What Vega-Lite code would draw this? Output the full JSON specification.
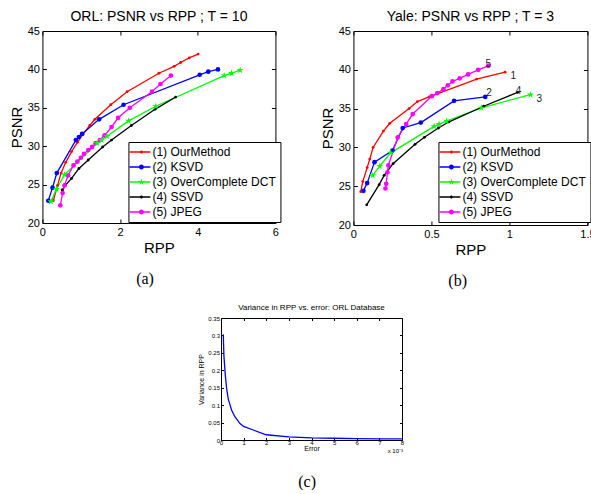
{
  "$schema": "https://vega.github.io/schema/vega-lite/v6.json",
  "padding": {"left": 8, "top": 9, "right": 0, "bottom": 0},
  "background": "white",
  "config": {
    "font": "Liberation Sans",
    "view": {"stroke": "black", "strokeWidth": 1},
    "axis": {"domain": false, "grid": false, "labelFont": "Liberation Sans", "labelFontSize": 11, "labelColor": "black", "labelFlush": false, "titleFont": "Liberation Sans", "titleFontSize": 15, "titleFontWeight": "normal", "titleColor": "black", "tickColor": "black", "tickSize": -4, "labelPadding": 7, "titlePadding": 3},
    "title": {"font": "Liberation Sans", "fontSize": 14, "fontWeight": "normal", "color": "black"},
    "legend": {"strokeColor": "black", "fillColor": "white", "padding": 4, "labelFont": "Liberation Sans", "labelFontSize": 12, "labelColor": "black", "symbolSize": 100, "labelOffset": 8, "rowPadding": 3, "symbolStrokeWidth": 0}
  },
  "datasets": {
    "orl": [
      {"method": "(1) OurMethod", "rpp": 0.28, "psnr": 22.9}, {"method": "(1) OurMethod", "rpp": 0.39, "psnr": 24.9}, {"method": "(1) OurMethod", "rpp": 0.48, "psnr": 26.5}, {"method": "(1) OurMethod", "rpp": 0.6, "psnr": 27.9}, {"method": "(1) OurMethod", "rpp": 0.75, "psnr": 29.3}, {"method": "(1) OurMethod", "rpp": 0.9, "psnr": 30.5}, {"method": "(1) OurMethod", "rpp": 1.05, "psnr": 31.6}, {"method": "(1) OurMethod", "rpp": 1.22, "psnr": 32.7}, {"method": "(1) OurMethod", "rpp": 1.35, "psnr": 33.5}, {"method": "(1) OurMethod", "rpp": 1.76, "psnr": 35.4}, {"method": "(1) OurMethod", "rpp": 2.18, "psnr": 37.1}, {"method": "(1) OurMethod", "rpp": 3.0, "psnr": 39.5}, {"method": "(1) OurMethod", "rpp": 3.39, "psnr": 40.4}, {"method": "(1) OurMethod", "rpp": 3.56, "psnr": 40.9}, {"method": "(1) OurMethod", "rpp": 3.78, "psnr": 41.5}, {"method": "(1) OurMethod", "rpp": 4.01, "psnr": 42.0},
      {"method": "(2) KSVD", "rpp": 0.15, "psnr": 22.9}, {"method": "(2) KSVD", "rpp": 0.26, "psnr": 24.6}, {"method": "(2) KSVD", "rpp": 0.37, "psnr": 26.5}, {"method": "(2) KSVD", "rpp": 0.86, "psnr": 30.8}, {"method": "(2) KSVD", "rpp": 0.94, "psnr": 31.2}, {"method": "(2) KSVD", "rpp": 1.02, "psnr": 31.6}, {"method": "(2) KSVD", "rpp": 1.46, "psnr": 33.5}, {"method": "(2) KSVD", "rpp": 2.09, "psnr": 35.4}, {"method": "(2) KSVD", "rpp": 4.05, "psnr": 39.3}, {"method": "(2) KSVD", "rpp": 4.27, "psnr": 39.7}, {"method": "(2) KSVD", "rpp": 4.52, "psnr": 40.0},
      {"method": "(3) OverComplete DCT", "rpp": 0.22, "psnr": 22.8}, {"method": "(3) OverComplete DCT", "rpp": 0.36, "psnr": 24.4}, {"method": "(3) OverComplete DCT", "rpp": 0.57, "psnr": 26.3}, {"method": "(3) OverComplete DCT", "rpp": 1.41, "psnr": 30.4}, {"method": "(3) OverComplete DCT", "rpp": 1.52, "psnr": 30.8}, {"method": "(3) OverComplete DCT", "rpp": 1.66, "psnr": 31.3}, {"method": "(3) OverComplete DCT", "rpp": 2.22, "psnr": 33.3}, {"method": "(3) OverComplete DCT", "rpp": 2.92, "psnr": 35.2}, {"method": "(3) OverComplete DCT", "rpp": 4.68, "psnr": 39.2}, {"method": "(3) OverComplete DCT", "rpp": 4.87, "psnr": 39.5}, {"method": "(3) OverComplete DCT", "rpp": 5.09, "psnr": 39.9},
      {"method": "(4) SSVD", "rpp": 0.51, "psnr": 24.3}, {"method": "(4) SSVD", "rpp": 0.59, "psnr": 24.9}, {"method": "(4) SSVD", "rpp": 0.75, "psnr": 25.8}, {"method": "(4) SSVD", "rpp": 0.94, "psnr": 27.1}, {"method": "(4) SSVD", "rpp": 1.18, "psnr": 28.2}, {"method": "(4) SSVD", "rpp": 1.55, "psnr": 29.9}, {"method": "(4) SSVD", "rpp": 1.78, "psnr": 30.8}, {"method": "(4) SSVD", "rpp": 2.29, "psnr": 32.7}, {"method": "(4) SSVD", "rpp": 2.9, "psnr": 34.8}, {"method": "(4) SSVD", "rpp": 3.43, "psnr": 36.4},
      {"method": "(5) JPEG", "rpp": 0.46, "psnr": 22.3}, {"method": "(5) JPEG", "rpp": 0.52, "psnr": 23.9}, {"method": "(5) JPEG", "rpp": 0.57, "psnr": 24.9}, {"method": "(5) JPEG", "rpp": 0.66, "psnr": 26.2}, {"method": "(5) JPEG", "rpp": 0.8, "psnr": 27.5}, {"method": "(5) JPEG", "rpp": 0.9, "psnr": 28.0}, {"method": "(5) JPEG", "rpp": 0.99, "psnr": 28.5}, {"method": "(5) JPEG", "rpp": 1.07, "psnr": 29.0}, {"method": "(5) JPEG", "rpp": 1.18, "psnr": 29.5}, {"method": "(5) JPEG", "rpp": 1.28, "psnr": 29.9}, {"method": "(5) JPEG", "rpp": 1.37, "psnr": 30.4}, {"method": "(5) JPEG", "rpp": 1.48, "psnr": 30.8}, {"method": "(5) JPEG", "rpp": 1.6, "psnr": 31.4}, {"method": "(5) JPEG", "rpp": 1.78, "psnr": 32.5}, {"method": "(5) JPEG", "rpp": 1.95, "psnr": 33.7}, {"method": "(5) JPEG", "rpp": 2.25, "psnr": 35.0}, {"method": "(5) JPEG", "rpp": 2.82, "psnr": 37.1}, {"method": "(5) JPEG", "rpp": 3.04, "psnr": 38.1}, {"method": "(5) JPEG", "rpp": 3.31, "psnr": 39.2}
    ],
    "yale": [
      {"method": "(1) OurMethod", "rpp": 0.047, "psnr": 24.3}, {"method": "(1) OurMethod", "rpp": 0.06, "psnr": 25.6}, {"method": "(1) OurMethod", "rpp": 0.088, "psnr": 27.4}, {"method": "(1) OurMethod", "rpp": 0.105, "psnr": 28.5}, {"method": "(1) OurMethod", "rpp": 0.126, "psnr": 30.0}, {"method": "(1) OurMethod", "rpp": 0.192, "psnr": 32.1}, {"method": "(1) OurMethod", "rpp": 0.233, "psnr": 33.1}, {"method": "(1) OurMethod", "rpp": 0.357, "psnr": 35.0}, {"method": "(1) OurMethod", "rpp": 0.41, "psnr": 35.9}, {"method": "(1) OurMethod", "rpp": 0.485, "psnr": 36.5}, {"method": "(1) OurMethod", "rpp": 0.79, "psnr": 38.8}, {"method": "(1) OurMethod", "rpp": 0.972, "psnr": 39.7},
      {"method": "(2) KSVD", "rpp": 0.064, "psnr": 24.4}, {"method": "(2) KSVD", "rpp": 0.088, "psnr": 25.4}, {"method": "(2) KSVD", "rpp": 0.135, "psnr": 28.1}, {"method": "(2) KSVD", "rpp": 0.25, "psnr": 29.6}, {"method": "(2) KSVD", "rpp": 0.316, "psnr": 32.5}, {"method": "(2) KSVD", "rpp": 0.432, "psnr": 33.2}, {"method": "(2) KSVD", "rpp": 0.645, "psnr": 36.0}, {"method": "(2) KSVD", "rpp": 0.845, "psnr": 36.5},
      {"method": "(3) OverComplete DCT", "rpp": 0.124, "psnr": 26.4}, {"method": "(3) OverComplete DCT", "rpp": 0.169, "psnr": 27.6}, {"method": "(3) OverComplete DCT", "rpp": 0.239, "psnr": 29.3}, {"method": "(3) OverComplete DCT", "rpp": 0.517, "psnr": 32.7}, {"method": "(3) OverComplete DCT", "rpp": 0.549, "psnr": 33.0}, {"method": "(3) OverComplete DCT", "rpp": 0.598, "psnr": 33.4}, {"method": "(3) OverComplete DCT", "rpp": 0.82, "psnr": 35.1}, {"method": "(3) OverComplete DCT", "rpp": 1.135, "psnr": 36.8},
      {"method": "(4) SSVD", "rpp": 0.085, "psnr": 22.6}, {"method": "(4) SSVD", "rpp": 0.165, "psnr": 25.2}, {"method": "(4) SSVD", "rpp": 0.197, "psnr": 26.4}, {"method": "(4) SSVD", "rpp": 0.254, "psnr": 27.9}, {"method": "(4) SSVD", "rpp": 0.395, "psnr": 30.4}, {"method": "(4) SSVD", "rpp": 0.455, "psnr": 31.3}, {"method": "(4) SSVD", "rpp": 0.545, "psnr": 32.5}, {"method": "(4) SSVD", "rpp": 0.613, "psnr": 33.3}, {"method": "(4) SSVD", "rpp": 0.835, "psnr": 35.3}, {"method": "(4) SSVD", "rpp": 1.053, "psnr": 37.1},
      {"method": "(5) JPEG", "rpp": 0.205, "psnr": 24.7}, {"method": "(5) JPEG", "rpp": 0.21, "psnr": 25.3}, {"method": "(5) JPEG", "rpp": 0.218, "psnr": 26.8}, {"method": "(5) JPEG", "rpp": 0.224, "psnr": 27.7}, {"method": "(5) JPEG", "rpp": 0.284, "psnr": 31.3}, {"method": "(5) JPEG", "rpp": 0.338, "psnr": 33.0}, {"method": "(5) JPEG", "rpp": 0.38, "psnr": 34.3}, {"method": "(5) JPEG", "rpp": 0.502, "psnr": 36.6}, {"method": "(5) JPEG", "rpp": 0.538, "psnr": 37.0}, {"method": "(5) JPEG", "rpp": 0.577, "psnr": 37.5}, {"method": "(5) JPEG", "rpp": 0.605, "psnr": 38.0}, {"method": "(5) JPEG", "rpp": 0.635, "psnr": 38.5}, {"method": "(5) JPEG", "rpp": 0.681, "psnr": 38.9}, {"method": "(5) JPEG", "rpp": 0.735, "psnr": 39.4}, {"method": "(5) JPEG", "rpp": 0.8, "psnr": 40.0}, {"method": "(5) JPEG", "rpp": 0.865, "psnr": 40.5}
    ],
    "yaleLabels": [
      {"label": "1", "rpp": 1.024, "psnr": 39.2},
      {"label": "2", "rpp": 0.87, "psnr": 37.0},
      {"label": "3", "rpp": 1.192, "psnr": 36.2},
      {"label": "4", "rpp": 1.058, "psnr": 37.3},
      {"label": "5", "rpp": 0.865, "psnr": 40.8}
    ],
    "variance": [
      {"err": 0.1, "v": 0.303}, {"err": 0.13, "v": 0.24}, {"err": 0.19, "v": 0.186}, {"err": 0.25, "v": 0.147}, {"err": 0.32, "v": 0.118}, {"err": 0.47, "v": 0.085}, {"err": 0.62, "v": 0.066}, {"err": 0.84, "v": 0.047}, {"err": 1.0, "v": 0.039}, {"err": 1.45, "v": 0.028}, {"err": 2.0, "v": 0.015}, {"err": 3.0, "v": 0.009}, {"err": 4.0, "v": 0.006}, {"err": 5.0, "v": 0.005}, {"err": 6.0, "v": 0.004}, {"err": 7.0, "v": 0.003}, {"err": 8.0, "v": 0.003}
    ],
    "scaleNote": [{"err": 8, "v": 0, "t": "x 10⁻³"}]
  },
  "spacing": 14,
  "center": true,
  "resolve": {"scale": {"color": "independent", "shape": "independent"}, "legend": {"color": "independent", "shape": "independent"}},
  "vconcat": [
    {
      "spacing": 38,
      "resolve": {"scale": {"color": "independent", "shape": "independent"}, "legend": {"color": "independent", "shape": "independent"}},
      "hconcat": [
        {
          "title": {"text": "(a)", "orient": "bottom", "anchor": "middle", "font": "Liberation Serif", "fontSize": 16, "offset": 15},
          "resolve": {"scale": {"color": "independent", "shape": "independent"}, "legend": {"color": "independent", "shape": "independent"}},
          "vconcat": [
            {
              "width": 233, "height": 192,
              "title": {"text": "ORL: PSNR vs RPP ; T = 10", "offset": 1},
              "data": {"name": "orl"},
              "encoding": {
                "x": {"field": "rpp", "type": "quantitative", "scale": {"domain": [0, 6], "nice": false}, "axis": null},
                "y": {"field": "psnr", "type": "quantitative", "scale": {"domain": [20, 45], "nice": false, "zero": false}, "axis": null},
                "color": {"field": "method", "type": "nominal", "scale": {"domain": ["(1) OurMethod", "(2) KSVD", "(3) OverComplete DCT", "(4) SSVD", "(5) JPEG"], "range": ["#ff0000", "#0000ff", "#00ff00", "#000000", "#ff00ff"]}, "legend": null}
              },
              "layer": [
                {
                  "transform": [{"filter": "datum.rpp < 0"}],
                  "mark": {"type": "point", "filled": true, "opacity": 1},
                  "encoding": {
                    "x": {"field": "rpp", "type": "quantitative", "scale": {"domain": [0, 6], "nice": false}, "axis": {"orient": "top", "values": [0, 2, 4, 6], "labels": false, "title": null}},
                    "y": {"field": "psnr", "type": "quantitative", "scale": {"domain": [20, 45], "nice": false, "zero": false}, "axis": {"orient": "right", "values": [20, 25, 30, 35, 40, 45], "labels": false, "title": null}},
                    "color": {"field": "method", "type": "nominal", "scale": {"domain": ["(1) OurMethod", "(2) KSVD", "(3) OverComplete DCT", "(4) SSVD", "(5) JPEG"], "range": ["#ff0000", "#0000ff", "#00ff00", "#000000", "#ff00ff"]}, "legend": {"title": null, "orient": "none", "legendX": 86, "legendY": 111}},
                    "shape": {"field": "method", "type": "nominal", "scale": {"domain": ["(1) OurMethod", "(2) KSVD", "(3) OverComplete DCT", "(4) SSVD", "(5) JPEG"], "range": [
                      "M-1.8,-0.13H2.4V0.13H-1.8Z M0.6,-0.3A0.3,0.3 0 1 1 0.6,0.3A0.3,0.3 0 1 1 0.6,-0.3Z",
                      "M-1.8,-0.13H2.4V0.13H-1.8Z M0.6,-0.5A0.5,0.5 0 1 1 0.6,0.5A0.5,0.5 0 1 1 0.6,-0.5Z",
                      "M-1.8,-0.13H2.4V0.13H-1.8Z M0.6,-0.7L0.756,-0.215L1.266,-0.216L0.853,0.082L1.012,0.566L0.6,0.266L0.188,0.566L0.347,0.082L-0.066,-0.216L0.444,-0.215Z",
                      "M-1.8,-0.13H2.4V0.13H-1.8Z M0.6,-0.3A0.3,0.3 0 1 1 0.6,0.3A0.3,0.3 0 1 1 0.6,-0.3Z",
                      "M-1.8,-0.13H2.4V0.13H-1.8Z M0.6,-0.5A0.5,0.5 0 1 1 0.6,0.5A0.5,0.5 0 1 1 0.6,-0.5Z"
                    ]}, "legend": {"title": null, "orient": "none", "legendX": 86, "legendY": 111}}
                  }
                },
                {
                  "mark": {"type": "line", "strokeWidth": 1.3},
                  "encoding": {
                    "x": {"field": "rpp", "type": "quantitative", "scale": {"domain": [0, 6], "nice": false}, "axis": {"orient": "bottom", "values": [0, 2, 4, 6], "title": "RPP"}},
                    "y": {"field": "psnr", "type": "quantitative", "scale": {"domain": [20, 45], "nice": false, "zero": false}, "axis": {"orient": "left", "values": [20, 25, 30, 35, 40, 45], "title": "PSNR"}}
                  }
                },
                {"transform": [{"filter": "datum.method == '(1) OurMethod' || datum.method == '(4) SSVD'"}], "mark": {"type": "point", "filled": true, "size": 8, "opacity": 1}},
                {"transform": [{"filter": "datum.method == '(2) KSVD' || datum.method == '(5) JPEG'"}], "mark": {"type": "point", "filled": true, "size": 22, "opacity": 1}},
                {"transform": [{"filter": "datum.method == '(3) OverComplete DCT'"}], "mark": {"type": "point", "filled": true, "size": 55, "opacity": 1, "shape": "M0,-1L0.223,-0.307L0.951,-0.309L0.361,0.117L0.588,0.809L0,0.38L-0.588,0.809L-0.361,0.117L-0.951,-0.309L-0.223,-0.307Z"}}
              ]
            }
          ]
        },
        {
          "title": {"text": "(b)", "orient": "bottom", "anchor": "middle", "font": "Liberation Serif", "fontSize": 16, "offset": 15},
          "resolve": {"scale": {"color": "independent", "shape": "independent"}, "legend": {"color": "independent", "shape": "independent"}},
          "vconcat": [
            {
              "width": 234, "height": 194,
              "title": {"text": "Yale: PSNR vs RPP ; T = 3", "offset": 1},
              "encoding": {
                "x": {"field": "rpp", "type": "quantitative", "scale": {"domain": [0, 1.5], "nice": false}, "axis": null},
                "y": {"field": "psnr", "type": "quantitative", "scale": {"domain": [20, 45], "nice": false, "zero": false}, "axis": null},
                "color": {"field": "method", "type": "nominal", "scale": {"domain": ["(1) OurMethod", "(2) KSVD", "(3) OverComplete DCT", "(4) SSVD", "(5) JPEG"], "range": ["#ff0000", "#0000ff", "#00ff00", "#000000", "#ff00ff"]}, "legend": null}
              },
              "layer": [
                {
                  "data": {"name": "yale"},
                  "transform": [{"filter": "datum.rpp < 0"}],
                  "mark": {"type": "point", "filled": true, "opacity": 1},
                  "encoding": {
                    "x": {"field": "rpp", "type": "quantitative", "scale": {"domain": [0, 1.5], "nice": false}, "axis": {"orient": "top", "values": [0, 0.5, 1, 1.5], "labels": false, "title": null}},
                    "y": {"field": "psnr", "type": "quantitative", "scale": {"domain": [20, 45], "nice": false, "zero": false}, "axis": {"orient": "right", "values": [20, 25, 30, 35, 40, 45], "labels": false, "title": null}},
                    "color": {"field": "method", "type": "nominal", "scale": {"domain": ["(1) OurMethod", "(2) KSVD", "(3) OverComplete DCT", "(4) SSVD", "(5) JPEG"], "range": ["#ff0000", "#0000ff", "#00ff00", "#000000", "#ff00ff"]}, "legend": {"title": null, "orient": "none", "legendX": 85, "legendY": 111}},
                    "shape": {"field": "method", "type": "nominal", "scale": {"domain": ["(1) OurMethod", "(2) KSVD", "(3) OverComplete DCT", "(4) SSVD", "(5) JPEG"], "range": [
                      "M-1.8,-0.13H2.4V0.13H-1.8Z M0.6,-0.3A0.3,0.3 0 1 1 0.6,0.3A0.3,0.3 0 1 1 0.6,-0.3Z",
                      "M-1.8,-0.13H2.4V0.13H-1.8Z M0.6,-0.5A0.5,0.5 0 1 1 0.6,0.5A0.5,0.5 0 1 1 0.6,-0.5Z",
                      "M-1.8,-0.13H2.4V0.13H-1.8Z M0.6,-0.7L0.756,-0.215L1.266,-0.216L0.853,0.082L1.012,0.566L0.6,0.266L0.188,0.566L0.347,0.082L-0.066,-0.216L0.444,-0.215Z",
                      "M-1.8,-0.13H2.4V0.13H-1.8Z M0.6,-0.3A0.3,0.3 0 1 1 0.6,0.3A0.3,0.3 0 1 1 0.6,-0.3Z",
                      "M-1.8,-0.13H2.4V0.13H-1.8Z M0.6,-0.5A0.5,0.5 0 1 1 0.6,0.5A0.5,0.5 0 1 1 0.6,-0.5Z"
                    ]}, "legend": {"title": null, "orient": "none", "legendX": 85, "legendY": 111}}
                  }
                },
                {
                  "data": {"name": "yale"},
                  "mark": {"type": "line", "strokeWidth": 1.3},
                  "encoding": {
                    "x": {"field": "rpp", "type": "quantitative", "scale": {"domain": [0, 1.5], "nice": false}, "axis": {"orient": "bottom", "values": [0, 0.5, 1, 1.5], "format": "~g", "title": "RPP"}},
                    "y": {"field": "psnr", "type": "quantitative", "scale": {"domain": [20, 45], "nice": false, "zero": false}, "axis": {"orient": "left", "values": [20, 25, 30, 35, 40, 45], "title": "PSNR"}}
                  }
                },
                {"data": {"name": "yale"}, "transform": [{"filter": "datum.method == '(1) OurMethod' || datum.method == '(4) SSVD'"}], "mark": {"type": "point", "filled": true, "size": 8, "opacity": 1}},
                {"data": {"name": "yale"}, "transform": [{"filter": "datum.method == '(2) KSVD' || datum.method == '(5) JPEG'"}], "mark": {"type": "point", "filled": true, "size": 22, "opacity": 1}},
                {"data": {"name": "yale"}, "transform": [{"filter": "datum.method == '(3) OverComplete DCT'"}], "mark": {"type": "point", "filled": true, "size": 55, "opacity": 1, "shape": "M0,-1L0.223,-0.307L0.951,-0.309L0.361,0.117L0.588,0.809L0,0.38L-0.588,0.809L-0.361,0.117L-0.951,-0.309L-0.223,-0.307Z"}},
                {
                  "data": {"name": "yaleLabels"},
                  "mark": {"type": "text", "fontSize": 10, "align": "center", "baseline": "middle"},
                  "encoding": {"text": {"field": "label"}, "color": {"value": "#222222"}}
                }
              ]
            }
          ]
        }
      ]
    },
    {
      "title": {"text": "(c)", "orient": "bottom", "anchor": "middle", "font": "Liberation Serif", "fontSize": 16, "offset": 19},
      "vconcat": [
        {
          "width": 181, "height": 122,
          "title": {"text": "Variance in RPP vs. error: ORL Database", "fontSize": 8, "offset": 3},
          "encoding": {
            "x": {"field": "err", "type": "quantitative", "scale": {"domain": [0, 8], "nice": false}, "axis": null},
            "y": {"field": "v", "type": "quantitative", "scale": {"domain": [0, 0.35], "nice": false}, "axis": null}
          },
          "layer": [
            {
              "data": {"name": "variance"},
              "mark": {"type": "line", "strokeWidth": 1.3, "color": "#0000ff"},
              "encoding": {
                "x": {"field": "err", "type": "quantitative", "scale": {"domain": [0, 8], "nice": false}, "axis": {"orient": "bottom", "values": [0, 1, 2, 3, 4, 5, 6, 7, 8], "title": "Error", "labelFontSize": 6, "titleFontSize": 7, "tickSize": -2.5, "labelPadding": 1.5, "titlePadding": -1}},
                "y": {"field": "v", "type": "quantitative", "scale": {"domain": [0, 0.35], "nice": false}, "axis": {"orient": "left", "values": [0, 0.05, 0.1, 0.15, 0.2, 0.25, 0.3, 0.35], "format": "~g", "title": "Variance in RPP", "labelFontSize": 6, "titleFontSize": 7, "tickSize": -2.5, "labelPadding": 4, "titlePadding": 3}}
              }
            },
            {
              "data": {"name": "scaleNote"},
              "mark": {"type": "text", "fontSize": 6, "align": "right", "baseline": "middle", "dy": 11, "dx": 1, "color": "black", "clip": false},
              "encoding": {"text": {"field": "t"}}
            },
            {
              "data": {"name": "variance"},
              "transform": [{"filter": "datum.err < 0"}],
              "mark": {"type": "point"},
              "encoding": {
                "x": {"field": "err", "type": "quantitative", "scale": {"domain": [0, 8], "nice": false}, "axis": {"orient": "top", "values": [0, 1, 2, 3, 4, 5, 6, 7, 8], "labels": false, "title": null, "tickSize": -2.5}},
                "y": {"field": "v", "type": "quantitative", "scale": {"domain": [0, 0.35], "nice": false}, "axis": {"orient": "right", "values": [0, 0.05, 0.1, 0.15, 0.2, 0.25, 0.3, 0.35], "labels": false, "title": "x", "titleColor": "white", "titleFontSize": 7, "titlePadding": 7, "tickSize": -2.5}}
              }
            }
          ]
        }
      ]
    }
  ]
}
